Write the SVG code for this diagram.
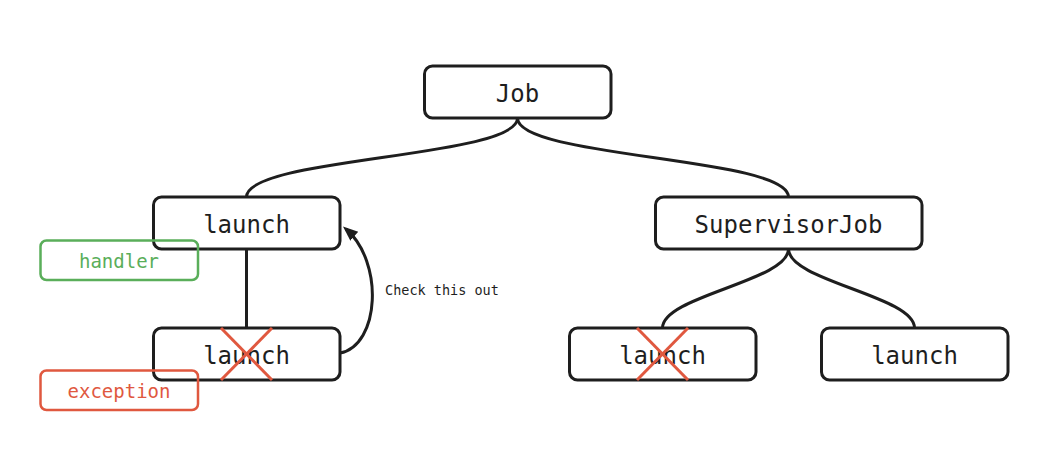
<svg xmlns="http://www.w3.org/2000/svg" width="1049" height="464" viewBox="0 0 1049 464">
  <style>
    .box { fill: none; stroke: #1e1e1e; stroke-width: 3; }
    .lbl { font-family: "DejaVu Sans Mono", "Liberation Mono", monospace; font-size: 24px; fill: #1e1e1e; text-anchor: middle; dominant-baseline: central; }
    .edge { fill: none; stroke: #1e1e1e; stroke-width: 3; }
    .cross { stroke: #e0583f; stroke-width: 3; }
    .small { font-family: "DejaVu Sans Mono", "Liberation Mono", monospace; font-size: 13.5px; fill: #1e1e1e; dominant-baseline: central; }
  </style>
  <defs>
    <marker id="arrow" markerUnits="userSpaceOnUse" markerWidth="18" markerHeight="14" refX="11" refY="6" orient="auto">
      <path d="M0,0 L15,6 L0,12 z" fill="#1e1e1e"/>
    </marker>
  </defs>
  <rect width="1049" height="464" fill="#ffffff"/>

  <g id="connectors">
    <path class="edge" d="M517.5,118 C517.5,158 246.5,157 246.5,197"/>
    <path class="edge" d="M517.5,118 C517.5,158 788.5,157 788.5,197"/>
    <path class="edge" d="M246.5,249 L246.5,328"/>
    <path class="edge" d="M788.5,249 C788.5,281 662.5,296 662.5,328"/>
    <path class="edge" d="M788.5,249 C788.5,281 914.5,296 914.5,328"/>
    <path class="edge" d="M340,353 C380,345 384,262 346,229" marker-end="url(#arrow)"/>
    <text class="small" x="385" y="290">Check this out</text>
  </g>

  <g id="job">
    <rect class="box" x="424.5" y="66" width="186.5" height="52" rx="8"/>
    <text class="lbl" x="517.5" y="93.5">Job</text>
  </g>

  <g id="launch1">
    <rect class="box" x="153.5" y="197" width="186.5" height="52" rx="8"/>
    <text class="lbl" x="246.5" y="224.5">launch</text>
  </g>

  <g id="supervisorjob">
    <rect class="box" x="655.5" y="197" width="266.5" height="52" rx="8"/>
    <text class="lbl" x="788.5" y="224.5">SupervisorJob</text>
  </g>

  <g id="launch2">
    <rect class="box" x="153.5" y="328" width="186.5" height="52" rx="8"/>
    <text class="lbl" x="246.5" y="355.5">launch</text>
    <line class="cross" x1="221" y1="328" x2="272" y2="380"/>
    <line class="cross" x1="272" y1="328" x2="221" y2="380"/>
  </g>

  <g id="launch3">
    <rect class="box" x="569.5" y="328" width="186.5" height="52" rx="8"/>
    <text class="lbl" x="662.5" y="355.5">launch</text>
    <line class="cross" x1="637" y1="328" x2="688" y2="380"/>
    <line class="cross" x1="688" y1="328" x2="637" y2="380"/>
  </g>

  <g id="launch4">
    <rect class="box" x="821.5" y="328" width="186.5" height="52" rx="8"/>
    <text class="lbl" x="914.5" y="355.5">launch</text>
  </g>

  <g id="handler">
    <rect x="40.5" y="240.5" width="157.5" height="39.5" rx="6" fill="none" stroke="#5aae5a" stroke-width="2.5"/>
    <text class="lbl" x="119" y="260.5" style="font-size:19px;fill:#5aae5a">handler</text>
  </g>

  <g id="exception">
    <rect x="40.5" y="370.5" width="157.5" height="39.5" rx="6" fill="none" stroke="#e0583f" stroke-width="2.5"/>
    <text class="lbl" x="119" y="390.5" style="font-size:19px;fill:#e0583f">exception</text>
  </g>
</svg>
